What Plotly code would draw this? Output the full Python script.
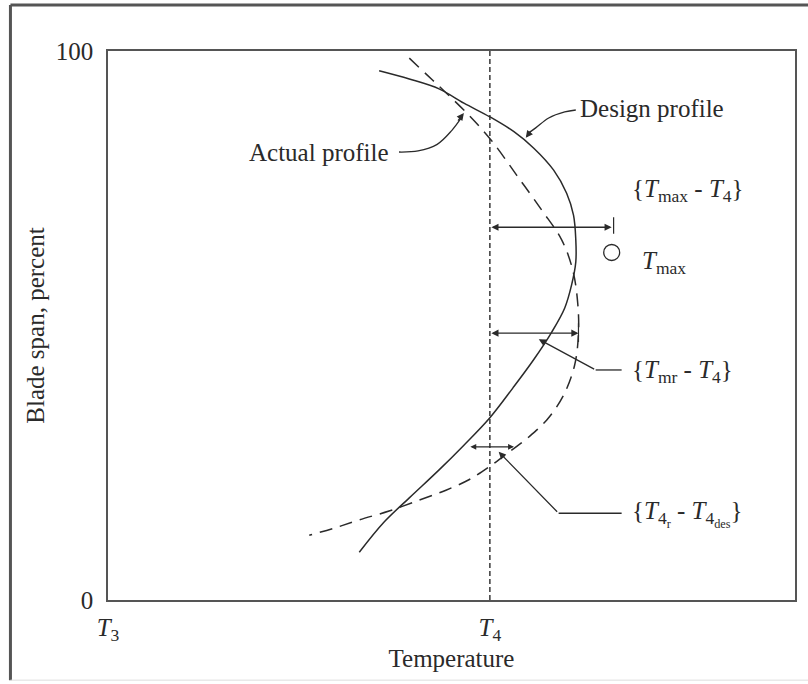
import plotly.graph_objects as go

# ---- data (temperature in units where T3 = 0, T4 = 1; span in percent) ----
design_temp = [0.710, 0.789, 0.867, 0.932, 1.000, 1.063, 1.115, 1.167, 1.201, 1.219, 1.225,
               1.225, 1.214, 1.196, 1.162, 1.115, 1.060, 1.000, 0.932, 0.867, 0.789, 0.723, 0.658]
design_span = [96.4, 94.9, 93.1, 90.5, 88.0, 85.3, 82.3, 78.3, 74.1, 70.1, 65.6,
               61.6, 57.4, 53.2, 48.8, 43.8, 38.6, 33.2, 28.2, 23.7, 18.6, 14.2, 8.7]

actual_temp = [0.789, 0.836, 0.885, 0.945, 1.003, 1.070, 1.136, 1.188, 1.217, 1.230, 1.232,
               1.222, 1.193, 1.149, 1.102, 1.057, 0.997, 0.945, 0.885, 0.815, 0.736, 0.658,
               0.593, 0.527]
actual_span = [98.7, 95.6, 92.4, 88.3, 83.8, 77.4, 71.0, 65.6, 60.1, 54.1, 48.6,
               42.8, 37.3, 32.8, 29.7, 27.3, 24.2, 21.9, 20.0, 18.2, 16.2, 14.6,
               13.1, 11.8]

x_tick_vals = [0, 1]
x_tick_text = ["<i>T</i><sub>3</sub>", "<i>T</i><sub>4</sub>"]
y_tick_vals = [0, 100]
y_tick_text = ["0", "100"]

t4 = 1.0
t_max = 1.319          # marked maximum temperature
t_max_span = 67.9
t_mr = 1.232           # actual profile maximum (mean-radius)
t_mr_span = 48.6
t4r_lo, t4r_hi, t4r_span = 0.945, 1.063, 27.9

FONT = "Liberation Serif"
INK = "#2a2a2a"
FS = 25

fig = go.Figure()

fig.add_trace(go.Scatter(x=design_temp, y=design_span, mode="lines",
                         line=dict(color=INK, width=1.5, shape="spline", smoothing=1.0),
                         showlegend=False, hoverinfo="skip"))
fig.add_trace(go.Scatter(x=actual_temp, y=actual_span, mode="lines",
                         line=dict(color=INK, width=1.5, shape="spline", smoothing=1.0,
                                   dash="13px,8px"),
                         showlegend=False, hoverinfo="skip"))

# curved leaders
fig.add_trace(go.Scatter(x=[1.225, 1.196, 1.154, 1.120, 1.100],
                         y=[89.25, 88.9, 87.8, 86.0, 85.0], mode="lines",
                         line=dict(color=INK, width=1.3, shape="spline"),
                         showlegend=False, hoverinfo="skip"))
fig.add_trace(go.Scatter(x=[0.762, 0.812, 0.862, 0.900, 0.925],
                         y=[81.6, 81.8, 83.0, 85.5, 87.8], mode="lines",
                         line=dict(color=INK, width=1.3, shape="spline"),
                         showlegend=False, hoverinfo="skip"))

shapes = []
# T4 reference line
shapes.append(dict(type="line", xref="x", yref="y", x0=t4, x1=t4, y0=0, y1=100,
                   line=dict(color=INK, width=1.4, dash="5px,3px")))
# end ticks
shapes.append(dict(type="line", xref="x", yref="y", x0=t_max + 0.005, x1=t_max + 0.005,
                   y0=t_max_span - 1.2, y1=t_max_span + 1.8, line=dict(color=INK, width=1.2)))
shapes.append(dict(type="line", xref="x", yref="y", x0=t_mr, x1=t_mr,
                   y0=t_mr_span - 1.6, y1=t_mr_span + 1.8, line=dict(color=INK, width=1.2)))
# T max circle
r_x, r_y = 8 / 383, 8 / 5.49
cx, cy = t_max, 63.3
shapes.append(dict(type="circle", xref="x", yref="y", x0=cx - r_x, x1=cx + r_x,
                   y0=cy - r_y, y1=cy + r_y, line=dict(color=INK, width=1.3)))
# horizontal parts of straight leaders
shapes.append(dict(type="line", xref="x", yref="y", x0=1.345, x1=1.277, y0=41.9, y1=41.9,
                   line=dict(color=INK, width=1.3)))
shapes.append(dict(type="line", xref="x", yref="y", x0=1.345, x1=1.180, y0=15.8, y1=15.8,
                   line=dict(color=INK, width=1.3)))
# outer frame
shapes.append(dict(type="line", xref="paper", yref="paper", x0=-0.142, x1=1.02,
                   y0=1.0838, y1=1.0838, line=dict(color="#555", width=3)))
shapes.append(dict(type="line", xref="paper", yref="paper", x0=-0.142, x1=-0.142,
                   y0=1.0838, y1=-0.146, line=dict(color="#555", width=3)))
shapes.append(dict(type="line", xref="paper", yref="paper", x0=-0.142, x1=1.02,
                   y0=-0.146, y1=-0.146, line=dict(color="#ddd", width=1)))

ann = []
def txt(x, y, s, anchor="left", size=FS):
    ann.append(dict(x=x, y=y, xref="x", yref="y", text=s, showarrow=False,
                    xanchor=anchor, yanchor="middle",
                    font=dict(family=FONT, size=size, color=INK)))

def arrow(x, y, ax, ay, both=False, size=1.1, ref=True):
    d = dict(x=x, y=y, ax=ax, ay=ay, xref="x", yref="y", text="", showarrow=True,
             arrowhead=2, arrowsize=size, arrowwidth=1.3, arrowcolor=INK,
             standoff=0, startstandoff=0)
    if ref:
        d.update(axref="x", ayref="y")
    if both:
        d.update(arrowside="end+start")
    ann.append(d)

txt(1.232, 89.6, "Design profile")
txt(0.742, 81.6, "Actual profile", anchor="right")
txt(1.366, 74.6, "{<i>T</i><sub>max</sub> - <i>T</i><sub>4</sub>}")
txt(1.392, 61.5, "<i>T</i><sub>max</sub>")
txt(1.366, 41.6, "{<i>T</i><sub>mr</sub> - <i>T</i><sub>4</sub>}")
txt(1.366, 15.6, "{<i>T</i><sub>4<sub>r</sub></sub> - <i>T</i><sub>4<sub>des</sub></sub>}")

arrow(t_max, t_max_span, t4, t_max_span, both=True)
arrow(t_mr, t_mr_span, t4, t_mr_span, both=True)
arrow(t4r_hi, t4r_span, t4r_lo, t4r_span, both=True, size=0.9)
arrow(1.094, 84.2, 6, -8, ref=False)
arrow(0.932, 88.7, -7, 9, ref=False)
arrow(1.128, 47.5, 1.277, 41.9)
arrow(1.023, 27.0, 1.180, 15.8)

fig.update_layout(
    width=808, height=684,
    margin=dict(l=108, r=11, t=51, b=84),
    paper_bgcolor="white", plot_bgcolor="white",
    shapes=shapes, annotations=ann,
    font=dict(family=FONT, size=FS, color=INK),
    xaxis=dict(range=[0, 1.799], showgrid=False, zeroline=False, showline=True, mirror=True,
               linecolor="#555", linewidth=1.5, tickvals=x_tick_vals, ticktext=x_tick_text,
               ticks="outside", ticklen=4, tickcolor="rgba(0,0,0,0)",
               tickfont=dict(family=FONT, size=FS, color=INK),
               title=dict(text="Temperature", standoff=2,
                          font=dict(family=FONT, size=FS, color=INK))),
    yaxis=dict(range=[0, 100], showgrid=False, zeroline=False, showline=True, mirror=True,
               linecolor="#555", linewidth=1.5, tickvals=y_tick_vals, ticktext=y_tick_text,
               ticks="outside", ticklen=8, tickcolor="rgba(0,0,0,0)",
               tickfont=dict(family=FONT, size=FS, color=INK),
               title=dict(text="Blade span, percent", standoff=4,
                          font=dict(family=FONT, size=FS, color=INK))),
)

fig.write_html("out.html")
